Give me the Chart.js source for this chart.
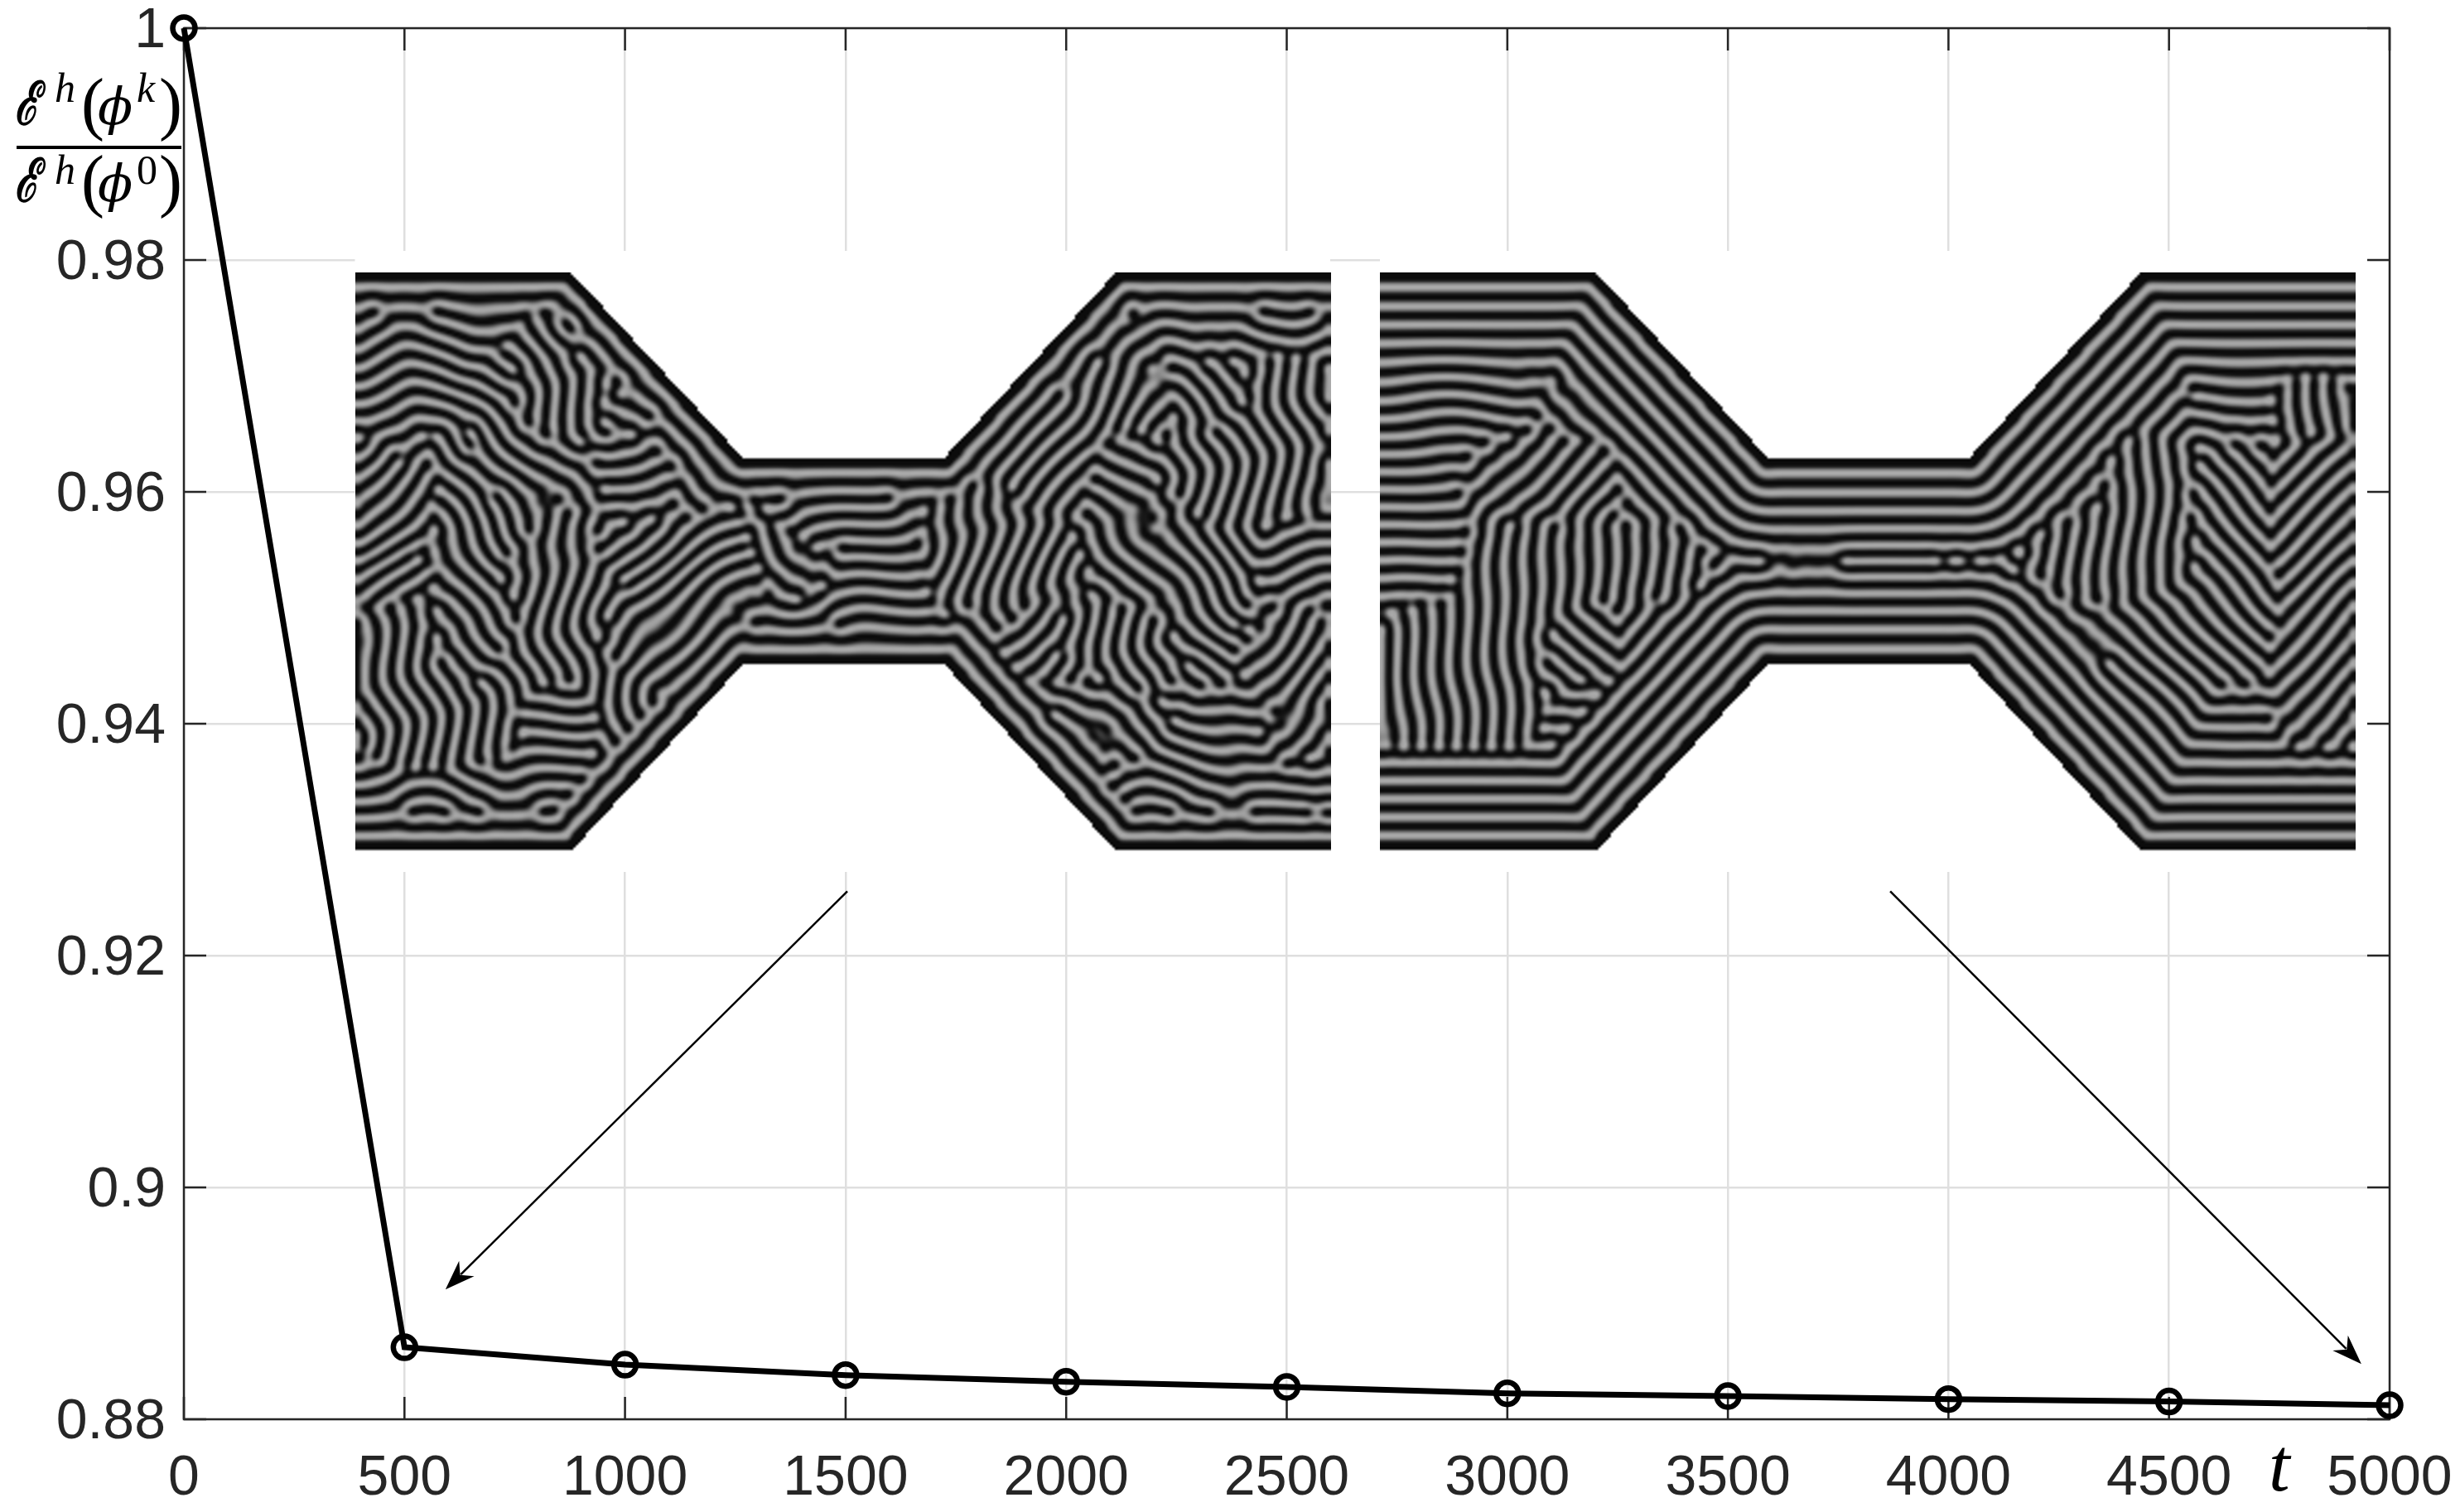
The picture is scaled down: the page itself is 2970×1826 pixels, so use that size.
<!DOCTYPE html>
<html>
<head>
<meta charset="utf-8">
<style>
  html, body { margin: 0; padding: 0; background: #fff; }
  canvas { display: block; }
</style>
<script src="https://cdn.jsdelivr.net/npm/chart.js@4"></script>
</head>
<body>
<canvas id="chart" width="2970" height="1826"></canvas>
<script>
// Valores
const tValues = [0, 500, 1000, 1500, 2000, 2500, 3000, 3500, 4000, 4500, 5000];
const energyRatio = [1, 0.88621, 0.88471, 0.88381, 0.88324, 0.88279, 0.88224, 0.8820, 0.88174, 0.88153, 0.88121];
const xTickLabels = ['0', '500', '1000', '1500', '2000', '2500', '3000', '3500', '4000', '4500', '5000'];
const yTickLabels = ['0.88', '0.9', '0.92', '0.94', '0.96', '0.98', '1'];

// Flechas: desde (x0, y0) hasta (x1, y1) en unidades de los ejes
const arrowFromT = [1504, 3868];
const arrowFromY = [0.92555, 0.92555];
const arrowToT = [593, 4936];
const arrowToY = [0.89119, 0.88476];

// Orientacion de las franjas en cada panel (h, v, a = /, d = \), 7 filas por 12 columnas
const leftStripes = ['hhddddhaaahh', 'hdvdddhaaadv', 'addhdhhvadvv', 'advaadhvvddh', 'vdvaahhdavda', 'vvhvahhdddha', 'hhhhahhhdhhh'];
const rightStripes = ['hhddhhhaahhh', 'hhdddhhaaahv', 'haaddhhaavda', 'hvvvahhdvvda', 'vvdaahhdddda', 'vvhaahhdddha', 'hhhahhhhdhhh'];

// Contorno del canal (relativo al panel)
const outline = [[0, 0], [261, 0], [470, 225.5], [711, 225.5], [920, 0], [1178, 0], [1178, 700.5], [920, 700.5], [711, 473], [470, 473], [261, 700.5], [0, 700.5]];

const dirs = { h: [0, 1], v: [1, 0], a: [0.7071, 0.7071], d: [0.7071, -0.7071] };

function inside(px, py) {
  let c = false;
  for (let i = 0, j = outline.length - 1; i < outline.length; j = i++) {
    const [xi, yi] = outline[i], [xj, yj] = outline[j];
    if ((yi > py) !== (yj > py) && px < (xj - xi) * (py - yi) / (yj - yi) + xi) c = !c;
  }
  return c;
}

// distancia a las paredes del canal (los cortes verticales del panel no cuentan)
function wallDist(px, py) {
  let best = 1e9;
  for (let i = 0, j = outline.length - 1; i < outline.length; j = i++) {
    const [xi, yi] = outline[i], [xj, yj] = outline[j];
    if (xi === xj) continue;
    const dx = xj - xi, dy = yj - yi;
    const t = Math.max(0, Math.min(1, ((px - xi) * dx + (py - yi) * dy) / (dx * dx + dy * dy)));
    best = Math.min(best, Math.hypot(px - xi - t * dx, py - yi - t * dy));
  }
  return best;
}

// Patron de franjas: relajacion tipo Swift-Hohenberg sobre el canal
function stripePanel(map, warp, depth) {
  const s = 3, nx = Math.round(1178 / s), ny = Math.round(700.5 / s), n = nx * ny;
  const period = 22, kDev = 2 * Math.PI / period, k2 = (kDev * s) ** 2;
  const u = new Float32Array(n), lap = new Float32Array(n), lap2 = new Float32Array(n);
  const mask = new Uint8Array(n), free = new Uint8Array(n);
  for (let j = 0; j < ny; j++) for (let i = 0; i < nx; i++) {
    const x = (i + .5) * s, y = (j + .5) * s, id = j * nx + i;
    mask[id] = inside(x, y) ? 1 : 0;
    const d = wallDist(x, y);
    free[id] = mask[id] && d > 9 ? 1 : 0;
    if (!free[id]) { u[id] = -1; continue; }
    const wx = x + warp * Math.sin(y / 53) + warp * .6 * Math.sin(y / 19 + x / 61);
    const wy = y + warp * Math.sin(x / 47) + warp * .6 * Math.sin(x / 23 - y / 71);
    // mezcla de ondas planas de las 4 celdas vecinas
    const cx = Math.min(10.999, Math.max(0, x / 98.17 - .5)), cy = Math.min(5.999, Math.max(0, y / 100.07 - .5));
    const c0 = Math.floor(cx), r0 = Math.floor(cy);
    let fx = cx - c0, fy = cy - r0, v = 0;
    fx = fx * fx * (3 - 2 * fx); fy = fy * fy * (3 - 2 * fy);
    for (const [r, c, w] of [[r0, c0, (1 - fx) * (1 - fy)], [r0, c0 + 1, fx * (1 - fy)], [r0 + 1, c0, (1 - fx) * fy], [r0 + 1, c0 + 1, fx * fy]]) {
      const dir = dirs[map[r][c]];
      v += w * Math.cos(kDev * (wx * dir[0] + wy * dir[1]));
    }
    // cerca de la pared las franjas siguen el contorno
    const b = Math.max(0, Math.min(1, (depth - d) / 30));
    u[id] = .7 * ((1 - b) * v - b * Math.cos(kDev * (d - 8.5)));
  }
  const r = .6, dt = .03;
  const laplace = (src, out) => {
    for (let j = 0; j < ny; j++) {
      const up = j > 0 ? -nx : nx, dn = j < ny - 1 ? nx : -nx;
      for (let i = 0; i < nx; i++) {
        const id = j * nx + i;
        const lf = i > 0 ? -1 : 1, rt = i < nx - 1 ? 1 : -1;
        out[id] = src[id + lf] + src[id + rt] + src[id + up] + src[id + dn] - 4 * src[id];
      }
    }
  };
  for (let it = 0; it < 600; it++) {
    laplace(u, lap);
    laplace(lap, lap2);
    for (let id = 0; id < n; id++) {
      if (!free[id]) continue;
      const a = u[id];
      u[id] = a + dt * (r * a - (k2 * k2 * a + 2 * k2 * lap[id] + lap2[id]) - a * a * a);
    }
  }
  const cv = document.createElement('canvas');
  cv.width = nx; cv.height = ny;
  const g = cv.getContext('2d'), img = g.createImageData(nx, ny);
  for (let id = 0; id < n; id++) {
    const shade = mask[id] ? Math.max(12, Math.min(168, 84 + 100 * u[id])) : 255;
    img.data[id * 4] = img.data[id * 4 + 1] = img.data[id * 4 + 2] = shade;
    img.data[id * 4 + 3] = 255;
  }
  g.putImageData(img, 0, 0);
  return cv;
}

const panels = [
  { x: 428.5, img: stripePanel(leftStripes, 14, 62) },
  { x: 1666, img: stripePanel(rightStripes, 5, 135) }
];

const ink = '#262626';

const decor = {
  id: 'decor',
  beforeDatasetsDraw(chart) {
    const { ctx, chartArea: a, scales: { x, y } } = chart;
    ctx.save();
    // paneles con fondo blanco encima de la rejilla
    ctx.fillStyle = '#fff';
    ctx.fillRect(428.5, 303, 1177.5, 750);
    ctx.fillRect(1666, 303, 1195, 750);
    ctx.imageSmoothingEnabled = true;
    ctx.imageSmoothingQuality = 'high';
    panels.forEach(p => ctx.drawImage(p.img, p.x, 329, 1178, 700.5));
    // marco y marcas hacia dentro, como en MATLAB
    ctx.strokeStyle = ink;
    ctx.lineWidth = 2.5;
    ctx.strokeRect(a.left, a.top, a.right - a.left, a.bottom - a.top);
    ctx.beginPath();
    x.ticks.forEach(t => {
      const px = x.getPixelForValue(t.value);
      ctx.moveTo(px, a.bottom); ctx.lineTo(px, a.bottom - 27);
      ctx.moveTo(px, a.top); ctx.lineTo(px, a.top + 27);
    });
    y.ticks.forEach(t => {
      const py = y.getPixelForValue(t.value);
      ctx.moveTo(a.left, py); ctx.lineTo(a.left + 27, py);
      ctx.moveTo(a.right, py); ctx.lineTo(a.right - 27, py);
    });
    ctx.stroke();
    ctx.restore();
  },
  afterDatasetsDraw(chart) {
    const { ctx, scales: { x, y } } = chart;
    ctx.save();
    // flechas
    arrowFromT.forEach((_, i) => {
      const x0 = x.getPixelForValue(arrowFromT[i]), y0 = y.getPixelForValue(arrowFromY[i]);
      const x1 = x.getPixelForValue(arrowToT[i]), y1 = y.getPixelForValue(arrowToY[i]);
      const len = Math.hypot(x1 - x0, y1 - y0), ux = (x1 - x0) / len, uy = (y1 - y0) / len;
      ctx.strokeStyle = '#000';
      ctx.lineWidth = 2.5;
      ctx.beginPath();
      ctx.moveTo(x0, y0);
      ctx.lineTo(x1 - ux * 26, y1 - uy * 26);
      ctx.stroke();
      ctx.fillStyle = '#000';
      ctx.beginPath();
      ctx.moveTo(x1, y1);
      ctx.lineTo(x1 - ux * 36 - uy * 13, y1 - uy * 36 + ux * 13);
      ctx.lineTo(x1 - ux * 25, y1 - uy * 25);
      ctx.lineTo(x1 - ux * 36 + uy * 13, y1 - uy * 36 - ux * 13);
      ctx.closePath();
      ctx.fill();
    });
    // etiquetas matematicas
    ctx.fillStyle = '#000';
    ctx.textAlign = 'left';
    ctx.textBaseline = 'alphabetic';
    const text = (str, font, px, py) => { ctx.font = font; ctx.fillText(str, px, py); };
    const sup = 'italic 50px "Liberation Serif"', phi = 'italic 62px "DejaVu Serif"', par = '84px "Liberation Serif"';
    [[150, 123, 'k', sup], [243, 222, '0', '50px "Liberation Serif"']].forEach(([base, top, mark, markFont]) => {
      // la E caligrafica se estrecha para que quepa antes del superindice
      ctx.save();
      ctx.translate(18, base);
      ctx.scale(.66, 1);
      text('ℰ', 'italic bold 72px "DejaVu Serif"', 0, 0);
      ctx.restore();
      text('h', sup, 66, top);
      text('(', par, 98, base + 3);
      text('ϕ', phi, 118, base);
      text(mark, markFont, 165, top);
      text(')', par, 192, base + 3);
    });
    ctx.fillRect(20, 176, 199, 4);
    text('t', 'italic 92px "Liberation Serif"', 2739, 1800);
    ctx.restore();
  }
};

new Chart(document.getElementById('chart'), {
  type: 'line',
  data: {
    datasets: [{
      data: tValues.map((t, i) => ({ x: t, y: energyRatio[i] })),
      borderColor: '#000',
      borderWidth: 7,
      pointRadius: 13.5,
      pointBorderWidth: 6.5,
      pointBorderColor: '#000',
      pointBackgroundColor: 'rgba(0,0,0,0)',
      tension: 0,
      clip: false
    }]
  },
  options: {
    responsive: false,
    animation: false,
    devicePixelRatio: 1,
    layout: { padding: { top: 34, right: 85, left: 0, bottom: 0 } },
    plugins: { legend: { display: false }, tooltip: { enabled: false } },
    scales: {
      x: {
        type: 'linear',
        min: 0,
        max: 5000,
        afterFit: s => { s.height = 112; s.paddingLeft = 0; s.paddingRight = 0; },
        grid: { color: '#dfdfdf', lineWidth: 2.5, drawTicks: false },
        border: { display: false },
        ticks: {
          stepSize: 500,
          maxRotation: 0,
          padding: 31,
          autoSkip: false,
          color: ink,
          font: { family: '"Liberation Sans"', size: 68 },
          callback: (v, i) => xTickLabels[i]
        }
      },
      y: {
        min: 0.88,
        max: 1,
        afterFit: s => { s.width = 222; s.paddingTop = 0; s.paddingBottom = 0; },
        grid: { color: '#dfdfdf', lineWidth: 2.5, drawTicks: false },
        border: { display: false },
        ticks: {
          stepSize: 0.02,
          padding: 22,
          labelOffset: 4,
          color: ink,
          font: { family: '"Liberation Sans"', size: 68 },
          callback: (v, i) => yTickLabels[i]
        }
      }
    }
  },
  plugins: [decor]
});
</script>
</body>
</html>
